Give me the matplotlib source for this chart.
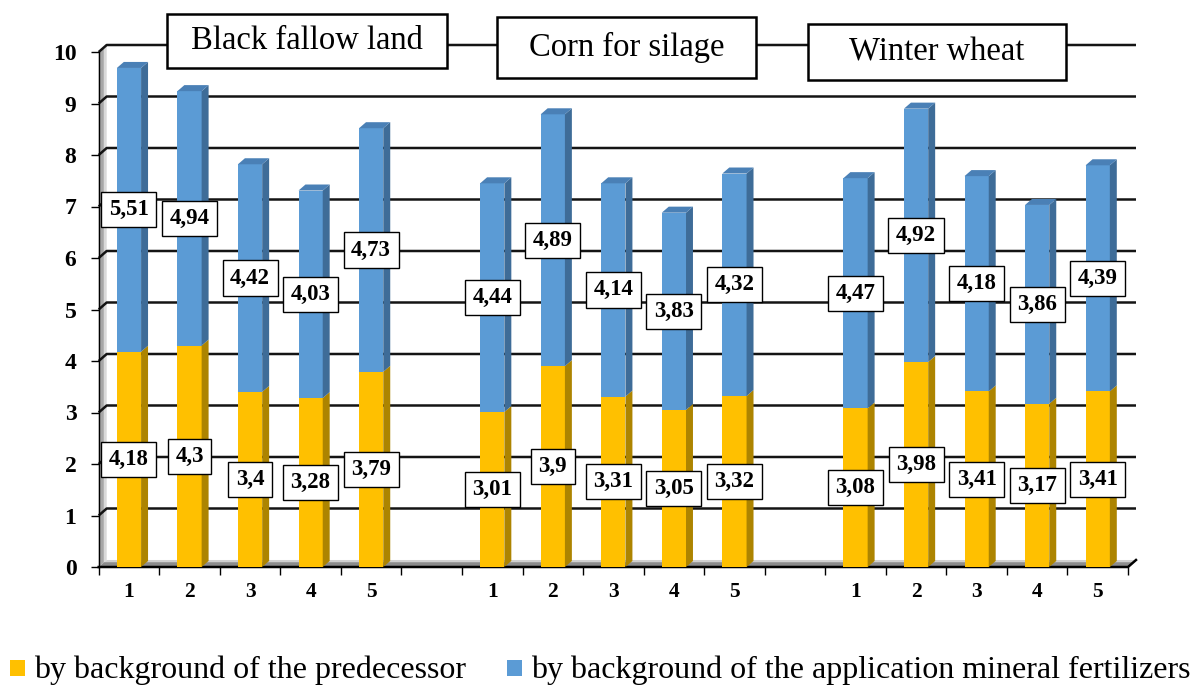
import numpy as np
import matplotlib
matplotlib.use("Agg")
import matplotlib.pyplot as plt
from matplotlib.patches import Rectangle, Polygon
from matplotlib.path import Path

# ---- data ----
groups = ["Black fallow land", "Corn for silage", "Winter wheat"]
variants = ["1", "2", "3", "4", "5"]
predecessor = [4.18, 4.30, 3.40, 3.28, 3.79,
               3.01, 3.90, 3.31, 3.05, 3.32,
               3.08, 3.98, 3.41, 3.17, 3.41]
fertilizers = [5.51, 4.94, 4.42, 4.03, 4.73,
               4.44, 4.89, 4.14, 3.83, 4.32,
               4.47, 4.92, 4.18, 3.86, 4.39]
series_names = ["by background of the predecessor",
                "by background of the application mineral fertilizers"]
yticks = list(range(0, 11))

# ---- style ----
SERIF = ["Liberation Serif", "DejaVu Serif"]
Y_FRONT, Y_SIDE = "#FFC000", "#AD8400"
B_FRONT, B_SIDE, B_TOP = "#5B9BD5", "#3E6C98", "#4A80B6"

W = 1193; H = 686
fig = plt.figure(figsize=(W / 100, H / 100), dpi=100)
ax = fig.add_axes([98.7 / W, (H - 567) / H, (1128 - 98.7) / W, (567 - 52) / H])
ax.set_xlim(-0.5, 16.5)
ax.set_ylim(0, 10)
for s in ax.spines.values():
    s.set_visible(False)
ax.patch.set_alpha(0)

# slot positions (gap between groups)
pos = []
for g in range(len(groups)):
    for i in range(len(variants)):
        pos.append(g * 6 + i)
pos = np.array(pos, dtype=float)

dx, dy = 0.132, 0.136     # wall depth
bdx, bdy = 0.115, 0.117   # bar depth
bw = 0.40
xl, xr = -0.5, 16.5

# left wall
ax.add_patch(Polygon([(xl, 0), (xl + dx * 0.65, dy * 0.65), (xl + dx * 0.65, 10 + dy * 0.65), (xl, 10)],
                     closed=True, fc="#A6A6A6", ec="none", zorder=0.5, clip_on=False))
ax.add_patch(Polygon([(xl + dx * 0.65, dy * 0.65), (xl + dx, dy), (xl + dx, 10 + dy), (xl + dx * 0.65, 10 + dy * 0.65)],
                     closed=True, fc="#D9D9D9", ec="none", zorder=0.5, clip_on=False))
# floor
ax.add_patch(Polygon([(xl, 0), (xr, 0), (xr + dx * 0.7, dy * 0.7), (xl + dx * 0.7, dy * 0.7)],
                     closed=True, fc="#8C8C8C", ec="none", zorder=0.6, clip_on=False))
ax.add_patch(Polygon([(xl + dx * 0.7, dy * 0.7), (xr + dx * 0.7, dy * 0.7), (xr + dx, dy), (xl + dx, dy)],
                     closed=True, fc="#D0D0D0", ec="none", zorder=0.6, clip_on=False))

# gridlines on back wall with diagonal to front axis
for v in yticks[1:]:
    ax.plot([xl, xl + dx, xr + dx], [v, v + dy, v + dy], color="#141414", lw=1.8,
            zorder=1, clip_on=False, solid_capstyle="butt")
# axis lines
ax.plot([xl, xl], [0, 10], color="black", lw=1.0, zorder=1.2, clip_on=False)
ax.plot([xl, xr, xr + dx], [0, 0, dy], color="black", lw=1.8, zorder=1.2, clip_on=False)

# bars (front faces)
ax.bar(pos, predecessor, width=bw, color=Y_FRONT, zorder=3, linewidth=0)
ax.bar(pos, fertilizers, bottom=predecessor, width=bw, color=B_FRONT, zorder=3, linewidth=0)

def side_top(x, b, h, side_c, top_c):
    r = x + bw / 2
    l = x - bw / 2
    ax.add_patch(Polygon([(r, b), (r + bdx, b + bdy), (r + bdx, b + h + bdy), (r, b + h)],
                         closed=True, fc=side_c, ec="none", zorder=3))
    if top_c is not None:
        ax.add_patch(Polygon([(l, b + h), (l + bdx, b + h + bdy), (r + bdx, b + h + bdy), (r, b + h)],
                             closed=True, fc=top_c, ec="none", zorder=3))

for x, p, f in zip(pos, predecessor, fertilizers):
    side_top(x, 0, p, Y_SIDE, None)
    side_top(x, p, f, B_SIDE, B_TOP)

# data labels
def labbox(x0, y0, width, height, mutation_size):
    px = 0.33 * mutation_size
    py = 0.31 * mutation_size
    verts = [(x0 - px, y0 - py), (x0 + width + px, y0 - py),
             (x0 + width + px, y0 + height + py), (x0 - px, y0 + height + py),
             (x0 - px, y0 - py)]
    codes = [Path.MOVETO, Path.LINETO, Path.LINETO, Path.LINETO, Path.CLOSEPOLY]
    return Path(verts, codes)

def fmt(v):
    return f"{v:g}".replace(".", ",")

for x, p, f in zip(pos, predecessor, fertilizers):
    for b, h in ((0, p), (p, f)):
        ax.text(x, b + h / 2, fmt(h), ha="center", va="center", fontsize=16.5,
                fontweight="bold", family=SERIF, zorder=6,
                bbox=dict(boxstyle=labbox, fc="white", ec="black", lw=1.0))

# ticks
ax.set_yticks(yticks)
ax.set_yticklabels([str(v) for v in yticks])
ax.tick_params(axis="y", direction="out", length=6, width=1.0, pad=10, labelsize=17)
ax.set_xticks(pos)
ax.set_xticklabels(variants * len(groups))
ax.set_xticks(np.arange(-0.5, 17, 1.0), minor=True)
ax.tick_params(axis="x", which="major", length=0, pad=11, labelsize=15.5)
ax.tick_params(axis="x", which="minor", direction="out", length=6, width=1.0)
for lab in ax.get_xticklabels() + ax.get_yticklabels():
    lab.set_fontweight("bold")
    lab.set_family(SERIF)

# group title boxes (pixel layout)
title_boxes = [(167, 14, 447, 68), (497, 17, 756, 78), (808, 24, 1066, 80)]
for name, (x0, y0, x1, y1) in zip(groups, title_boxes):
    fig.add_artist(Rectangle((x0 / W, 1 - y1 / H), (x1 - x0) / W, (y1 - y0) / H,
                             transform=fig.transFigure, fc="white", ec="black", lw=1.8, zorder=5))
    fig.text((x0 + x1) / 2 / W, 1 - (y0 + y1) / 2 / H, name, ha="center", va="center",
             fontsize=23.5, family=SERIF, zorder=6)

# legend (manual)
leg_items = [(10, Y_FRONT), (507, B_FRONT)]
for (lx, c), name in zip(leg_items, series_names):
    fig.add_artist(Rectangle((lx / W, 1 - 676 / H), 15 / W, 16 / H, transform=fig.transFigure,
                             fc=c, ec="none", zorder=5))
    fig.text((lx + 24) / W, 1 - 670 / H, name, ha="left", va="center", fontsize=23,
             family=SERIF, zorder=6)

fig.savefig("out.png", dpi=100)
